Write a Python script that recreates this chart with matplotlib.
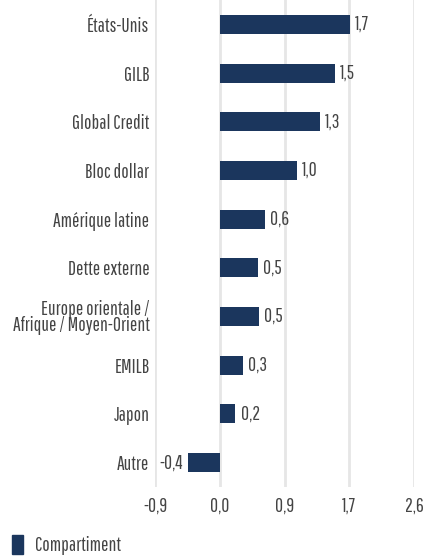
import numpy as np
import matplotlib.pyplot as plt
from matplotlib.patches import Patch

# ------------------------------------------------------------
# Data
# ------------------------------------------------------------
categories = [
    "États-Unis", "GILB", "Global Credit", "Bloc dollar", "Amérique latine",
    "Dette externe", "Europe orientale /\nAfrique / Moyen-Orient", "EMILB",
    "Japon", "Autre",
]
values = [1.74, 1.54, 1.34, 1.03, 0.60, 0.51, 0.52, 0.31, 0.21, -0.42]
series_name = "Compartiment"
tick_values = np.linspace(-2.6 / 3, 2.6, 5)
tick_labels = ["-0,9", "0,0", "0,9", "1,7", "2,6"]

# ------------------------------------------------------------
# Style
# ------------------------------------------------------------
plt.rcParams["font.family"] = ["Pathway Gothic One", "DejaVu Sans"]
bar_color = "#1b365d"
text_color = "#444444"
grid_color = "#e6e6e6"
fs = 14

fig = plt.figure(figsize=(4.25, 5.59), dpi=100)
ax = fig.add_axes([155 / 425, 1 - 487 / 559, (414 - 155) / 425, 487 / 559])

y = np.arange(len(categories))
ax.barh(y, values, height=0.39, color=bar_color, zorder=3)

# value labels next to bar ends
for yi, v in zip(y, values):
    label = f"{v:.1f}".replace(".", ",")
    dx = 4 if v >= 0 else -4
    ax.annotate(label, (v, yi), xytext=(dx, 0), textcoords="offset points",
                va="center", ha="left" if v >= 0 else "right",
                fontsize=fs, color=text_color)

ax.set_ylim(len(categories) - 0.5, -0.5)
ax.set_xlim(tick_values[0], tick_values[-1])
ax.set_yticks(y)
ax.set_yticklabels(categories, fontsize=fs, color=text_color, linespacing=0.85)
ax.set_xticks(tick_values)
ax.set_xticklabels(tick_labels, fontsize=fs, color=text_color)
ax.tick_params(axis="both", length=0)
ax.tick_params(axis="y", pad=4)
ax.tick_params(axis="x", pad=7)
for lbl in ax.get_yticklabels():
    lbl.set_multialignment("right")

ax.grid(axis="x", color=grid_color, linewidth=2, zorder=0)
for s in ax.spines.values():
    s.set_visible(False)

fig.legend(
    handles=[Patch(color=bar_color, label=series_name)],
    loc="lower left", bbox_to_anchor=(-0.012, -0.024), frameon=False,
    fontsize=fs, handlelength=0.55, handleheight=1.1, handletextpad=0.6,
    labelcolor=text_color,
)

fig.savefig("out.png", dpi=100)
